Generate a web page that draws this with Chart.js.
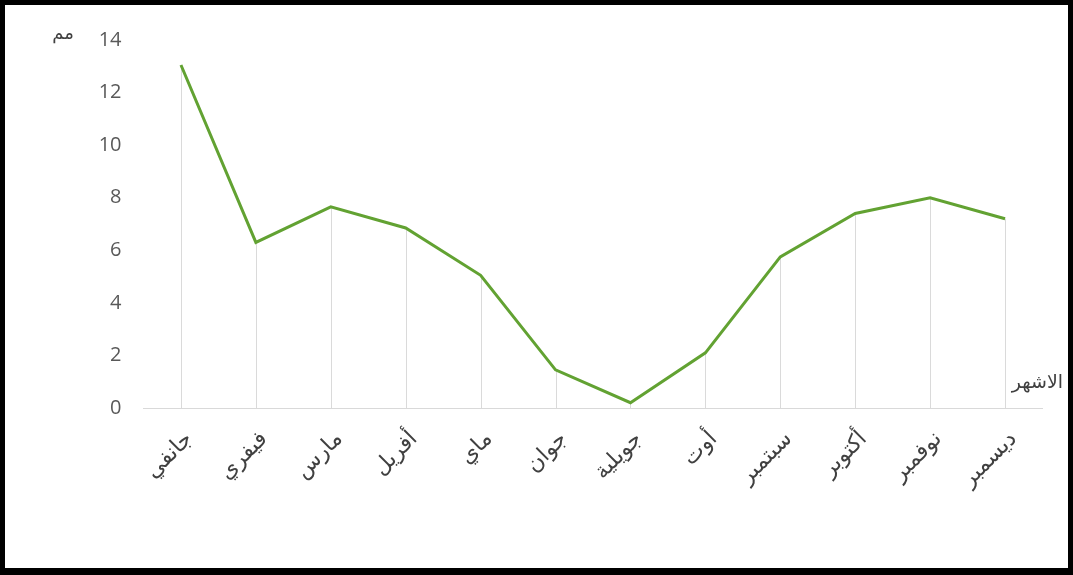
<!DOCTYPE html>
<html>
<head>
<meta charset="utf-8">
<script src="https://cdn.jsdelivr.net/npm/chart.js@4"></script>
<style>
  html, body { margin: 0; padding: 0; background: #fff; }
  #frame {
    position: absolute; left: 0; top: 0;
    width: 1073px; height: 575px;
    box-sizing: border-box;
    border: 5px solid #000;
    border-bottom-width: 7px;
    background: #fff;
  }
</style>
</head>
<body>
<div id="frame">
  <canvas id="rainChart" width="1063" height="563"></canvas>
</div>
<script>
// months as shown on the x axis
const months = ['جانفي', 'فيفري', 'مارس', 'أفريل', 'ماي', 'جوان', 'جويلية', 'أوت', 'سبتمبر', 'أكتوبر', 'نوفمبر', 'ديسمبر'];
// values (mm)
const rainfall = [13.05, 6.3, 7.65, 6.85, 5.05, 1.45, 0.2, 2.1, 5.75, 7.4, 8.0, 7.2];
const yMin = 0, yMax = 14, yStep = 2;
const yUnit = 'مم';
const xTitle = 'الاشهر';

const fontFamily = "'Open Sans', 'DejaVu Sans', sans-serif";

// thin grey drop lines from each point down to the axis
const dropLines = {
    id: 'dropLines',
    beforeDatasetsDraw(chart) {
        const ctx = chart.ctx;
        const bottom = chart.scales.y.getPixelForValue(yMin);
        ctx.save();
        ctx.strokeStyle = '#dadada';
        ctx.lineWidth = 1;
        chart.getDatasetMeta(0).data.forEach(p => {
            const x = Math.round(p.x) + 0.5;
            ctx.beginPath();
            ctx.moveTo(x, p.y);
            ctx.lineTo(x, bottom);
            ctx.stroke();
        });
        ctx.restore();
    }
};

// unit label over the y axis and the axis name at the right end of x axis
const axisNames = {
    id: 'axisNames',
    afterDraw(chart) {
        const ctx = chart.ctx;
        const y = chart.scales.y;
        ctx.save();
        ctx.fillStyle = '#404040';
        ctx.font = '18px ' + fontFamily;
        ctx.textBaseline = 'middle';
        ctx.textAlign = 'center';
        ctx.fillText(yUnit, 58, y.getPixelForValue(yMax) - 6);
        ctx.textAlign = 'right';
        ctx.font = '19px ' + fontFamily;
        ctx.fillText(xTitle, 1058, y.getPixelForValue(yMin) - 25);
        ctx.restore();
    }
};

new Chart(document.getElementById('rainChart'), {
    type: 'line',
    data: {
        labels: months,
        datasets: [
            {
                data: rainfall,
                borderColor: '#62a232',
                borderWidth: 3,
                pointRadius: 0,
                tension: 0,
                fill: false
            }
        ]
    },
    options: {
        responsive: false,
        animation: false,
        devicePixelRatio: 1,
        layout: { padding: { top: 35, right: 25.5, left: 0, bottom: 0 } },
        plugins: {
            legend: { display: false },
            tooltip: { enabled: false }
        },
        scales: {
            x: {
                offset: true,
                grid: { display: false, drawTicks: false },
                border: { display: true, color: '#d9d9d9', width: 1 },
                ticks: {
                    maxRotation: 45,
                    minRotation: 45,
                    autoSkip: false,
                    padding: 18,
                    labelOffset: 8,
                    color: '#404040',
                    font: { size: 22, family: fontFamily }
                },
                afterFit(scale) { scale.height = 160; }
            },
            y: {
                min: yMin,
                max: yMax,
                grid: { display: false, drawTicks: false },
                border: { display: false },
                ticks: {
                    stepSize: yStep,
                    padding: 22,
                    color: '#595959',
                    font: { size: 20, family: fontFamily }
                },
                afterFit(scale) { scale.width = 138.5; }
            }
        }
    },
    plugins: [dropLines, axisNames]
});
</script>
</body>
</html>
